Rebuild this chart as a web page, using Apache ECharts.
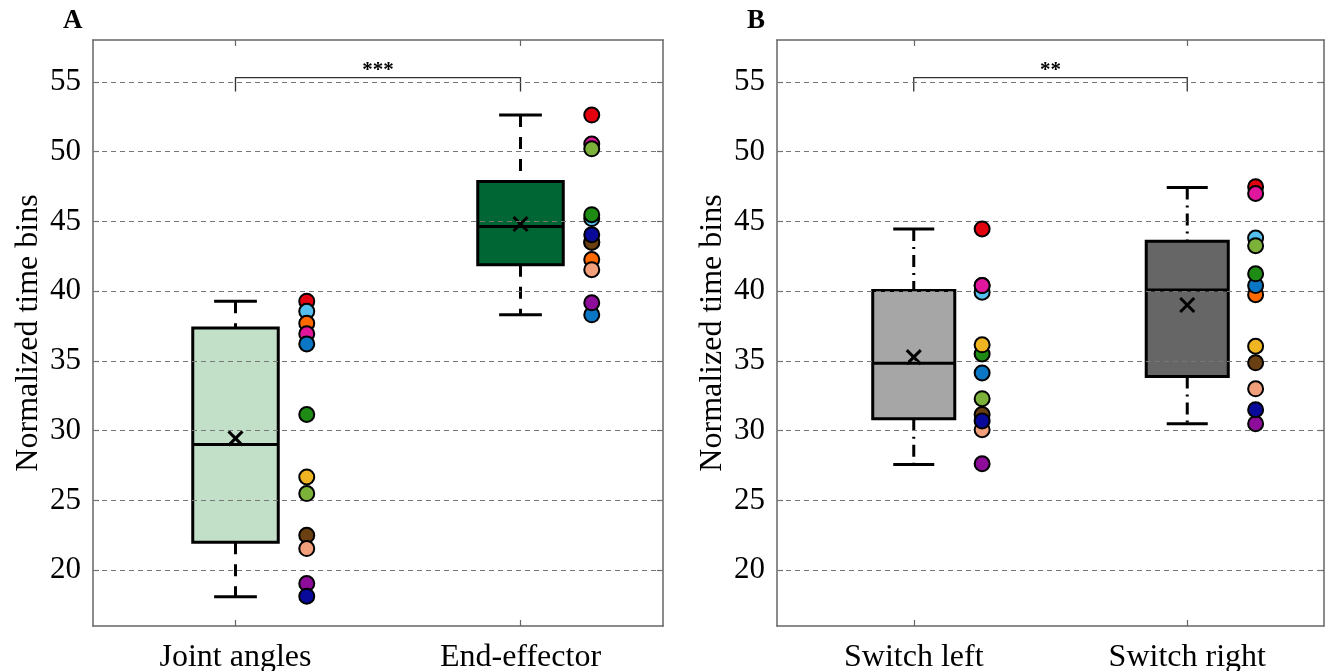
<!DOCTYPE html>
<html>
<head>
<meta charset="utf-8">
<script src="https://cdn.jsdelivr.net/npm/echarts@6/dist/echarts.min.js"></script>
<style>html,body{margin:0;padding:0;background:#fff}#c{width:1327px;height:671px}</style>
</head>
<body>
<div id="c"></div>
<script>
// ---- data ----
const categoriesA = ['Joint angles', 'End-effector'];
const categoriesB = ['Switch left', 'Switch right'];
const yTicks = [20, 25, 30, 35, 40, 45, 50, 55];
// participant colours (order used for every group)
const participantColors = ['#e3000f', '#55c0ee', '#ff6a00', '#e0179d', '#0a76c4', '#1e8c14',
  '#eeb422', '#7cb13a', '#6a3f12', '#f2a07c', '#8e0c9a', '#0a0a9a'];
// per-participant values: [red, lightblue, orange, magenta, blue, green, yellow, yellowgreen, brown, salmon, purple, navy]
const jointAngles = [39.28, 38.56, 37.7, 36.94, 36.22, 31.16, 26.68, 25.49, 22.5, 21.55, 19.04, 18.14];
const endEffector = [52.62, 45.2, 42.26, 50.54, 38.3, 45.48, 43.5, 50.2, 43.5, 41.54, 39.16, 44.05];
const switchLeft = [44.46, 39.92, 40.4, 40.4, 34.14, 35.5, 36.15, 32.29, 31.16, 30.07, 27.63, 30.7];
const switchRight = [47.48, 43.81, 39.75, 47.0, 40.4, 41.24, 36.05, 43.26, 34.86, 33.0, 30.5, 31.5];
// box stats: [whiskerLow, q1, median, q3, whiskerHigh, mean]
const boxStatsA = [[18.1, 22.0, 29.0, 37.35, 39.28, 29.45], [38.3, 41.9, 44.64, 47.86, 52.62, 44.81]];
const boxStatsB = [[27.58, 30.85, 34.84, 40.04, 44.46, 35.27], [30.5, 33.88, 40.09, 43.57, 47.43, 39.01]];
const boxFillA = ['#c2dfc8', '#006633'];
const boxFillB = ['#a6a6a6', '#666666'];
// significance brackets: [x1, x2, yTop, yBottom]
const sigA = { label: '***', span: [1, 2, 55.31, 54.3] };
const sigB = { label: '**', span: [1, 2, 55.31, 54.3] };

const FONT = 'Liberation Serif';
const AXC = '#666';

function makeBoxSeries(gi, stats, fills, dash) {
  return {
    type: 'custom', xAxisIndex: gi * 2, yAxisIndex: gi * 2, z: 3,
    data: stats.map((s, i) => [i + 1].concat(s)),
    renderItem: function (params, api) {
      const x = api.value(0);
      const lo = api.value(1), q1 = api.value(2), med = api.value(3), q3 = api.value(4), hi = api.value(5), mean = api.value(6);
      const hw = 0.15, cw = 0.075;
      const pL = api.coord([x - hw, q3]), pR = api.coord([x + hw, q1]);
      const c = api.coord([x, med]);
      const pHi = api.coord([x, hi]), pLo = api.coord([x, lo]);
      const pQ3 = api.coord([x, q3]), pQ1 = api.coord([x, q1]);
      const cL = api.coord([x - cw, hi])[0], cR = api.coord([x + cw, hi])[0];
      const m = api.coord([x, mean]);
      const ms = 7;
      const fill = fills[params.dataIndex];
      const blk = { stroke: '#000', lineWidth: 3 };
      return {
        type: 'group', children: [
          { type: 'line', shape: { x1: pHi[0], y1: pHi[1], x2: pQ3[0], y2: pQ3[1] }, style: { stroke: '#000', lineWidth: 3, lineDash: dash } },
          { type: 'line', shape: { x1: pQ1[0], y1: pQ1[1], x2: pLo[0], y2: pLo[1] }, style: { stroke: '#000', lineWidth: 3, lineDash: dash } },
          { type: 'line', shape: { x1: cL, y1: pHi[1], x2: cR, y2: pHi[1] }, style: blk },
          { type: 'line', shape: { x1: cL, y1: pLo[1], x2: cR, y2: pLo[1] }, style: blk },
          { type: 'rect', shape: { x: pL[0], y: pL[1], width: pR[0] - pL[0], height: pR[1] - pL[1] }, style: { fill: fill, stroke: '#000', lineWidth: 3 } },
          { type: 'line', shape: { x1: pL[0], y1: c[1], x2: pR[0], y2: c[1] }, style: blk },
          { type: 'line', shape: { x1: m[0] - ms, y1: m[1] - ms, x2: m[0] + ms, y2: m[1] + ms }, style: blk },
          { type: 'line', shape: { x1: m[0] - ms, y1: m[1] + ms, x2: m[0] + ms, y2: m[1] - ms }, style: blk }
        ]
      };
    }
  };
}

function makeSigSeries(gi, sig) {
  return {
    type: 'custom', xAxisIndex: gi * 2, yAxisIndex: gi * 2, z: 4,
    data: [sig.span],
    renderItem: function (params, api) {
      const a = api.coord([api.value(0), api.value(2)]);
      const b = api.coord([api.value(1), api.value(2)]);
      const a2 = api.coord([api.value(0), api.value(3)]);
      const st = { stroke: '#333', lineWidth: 1.3, fill: 'none' };
      return {
        type: 'group', children: [
          { type: 'polyline', shape: { points: [[a2[0], a2[1]], [a[0], a[1]], [b[0], b[1]], [b[0], a2[1]]] }, style: st },
          { type: 'text', x: (a[0] + b[0]) / 2, y: a[1] + 4, style: { text: sig.label, fill: '#000', font: 'bold 21px ' + FONT, align: 'center', verticalAlign: 'bottom' } }
        ]
      };
    }
  };
}

function makeScatter(gi, cat, values) {
  // one series per participant so later ones overlap earlier ones
  return values.map((v, p) => ({
    type: 'scatter', xAxisIndex: gi * 2, yAxisIndex: gi * 2, z: 5,
    symbol: 'circle', symbolSize: 15,
    itemStyle: { color: participantColors[p], borderColor: '#000', borderWidth: 2, opacity: 1 },
    emphasis: { disabled: true },
    data: [[cat + 0.25, v]]
  }));
}

function gridLineSeries(gi) {
  return {
    type: 'line', xAxisIndex: gi * 2, yAxisIndex: gi * 2, data: [], z: 1,
    markLine: {
      silent: true, symbol: 'none', label: { show: false },
      lineStyle: { color: '#777', type: [5, 4], width: 1 },
      data: yTicks.map(t => ({ yAxis: t }))
    }
  };
}

function xAxes(gi, cats) {
  const base = {
    gridIndex: gi, type: 'value', min: 0.5, max: 2.5,
    splitLine: { show: false },
    axisLine: { show: true, onZero: false, lineStyle: { color: AXC, width: 1.5 } },
    axisTick: { show: true, inside: true, length: 6, customValues: [1, 2], lineStyle: { color: AXC, width: 1.2 } }
  };
  return [
    Object.assign({}, base, {
      position: 'bottom',
      axisLabel: { show: true, customValues: [1, 2], formatter: v => cats[Math.round(v) - 1], color: '#000', fontFamily: FONT, fontSize: 32, margin: 16 }
    }),
    Object.assign({}, base, { position: 'top', axisLabel: { show: false } })
  ];
}

function yAxes(gi) {
  const base = {
    gridIndex: gi, type: 'value', min: 16, max: 58,
    splitLine: { show: false },
    axisLine: { show: true, onZero: false, lineStyle: { color: AXC, width: 1.5 } },
    axisTick: { show: true, inside: true, length: 6, customValues: yTicks, lineStyle: { color: AXC, width: 1.2 } }
  };
  return [
    Object.assign({}, base, {
      position: 'left',
      name: 'Normalized time bins', nameLocation: 'middle', nameGap: 48,
      nameTextStyle: { color: '#000', fontFamily: FONT, fontSize: 32 },
      axisLabel: { show: true, customValues: yTicks, color: '#000', fontFamily: FONT, fontSize: 31, margin: 12 }
    }),
    Object.assign({}, base, { position: 'right', axisLabel: { show: false } })
  ];
}

const chart = echarts.init(document.getElementById('c'), null, { renderer: 'canvas' });
const option = {
  backgroundColor: '#fff',
  animation: false,
  grid: [
    { left: 93, top: 40, width: 570, height: 586, containLabel: false, outerBoundsMode: 'none' },
    { left: 777, top: 40, width: 547, height: 586, containLabel: false, outerBoundsMode: 'none' }
  ],
  xAxis: xAxes(0, categoriesA).concat(xAxes(1, categoriesB)),
  yAxis: yAxes(0).concat(yAxes(1)),
  graphic: [
    { type: 'text', left: 63, top: 8, style: { text: 'A', font: 'bold 27px ' + FONT, fill: '#000' } },
    { type: 'text', left: 747, top: 8, style: { text: 'B', font: 'bold 27px ' + FONT, fill: '#000' } }
  ],
  series: [
    gridLineSeries(0), gridLineSeries(1),
    makeBoxSeries(0, boxStatsA, boxFillA, [12, 10]),
    makeBoxSeries(1, boxStatsB, boxFillB, [12, 6, 2, 6]),
    makeSigSeries(0, sigA), makeSigSeries(1, sigB)
  ].concat(makeScatter(0, 1, jointAngles), makeScatter(0, 2, endEffector),
    makeScatter(1, 1, switchLeft), makeScatter(1, 2, switchRight))
};
chart.setOption(option);
</script>
</body>
</html>
